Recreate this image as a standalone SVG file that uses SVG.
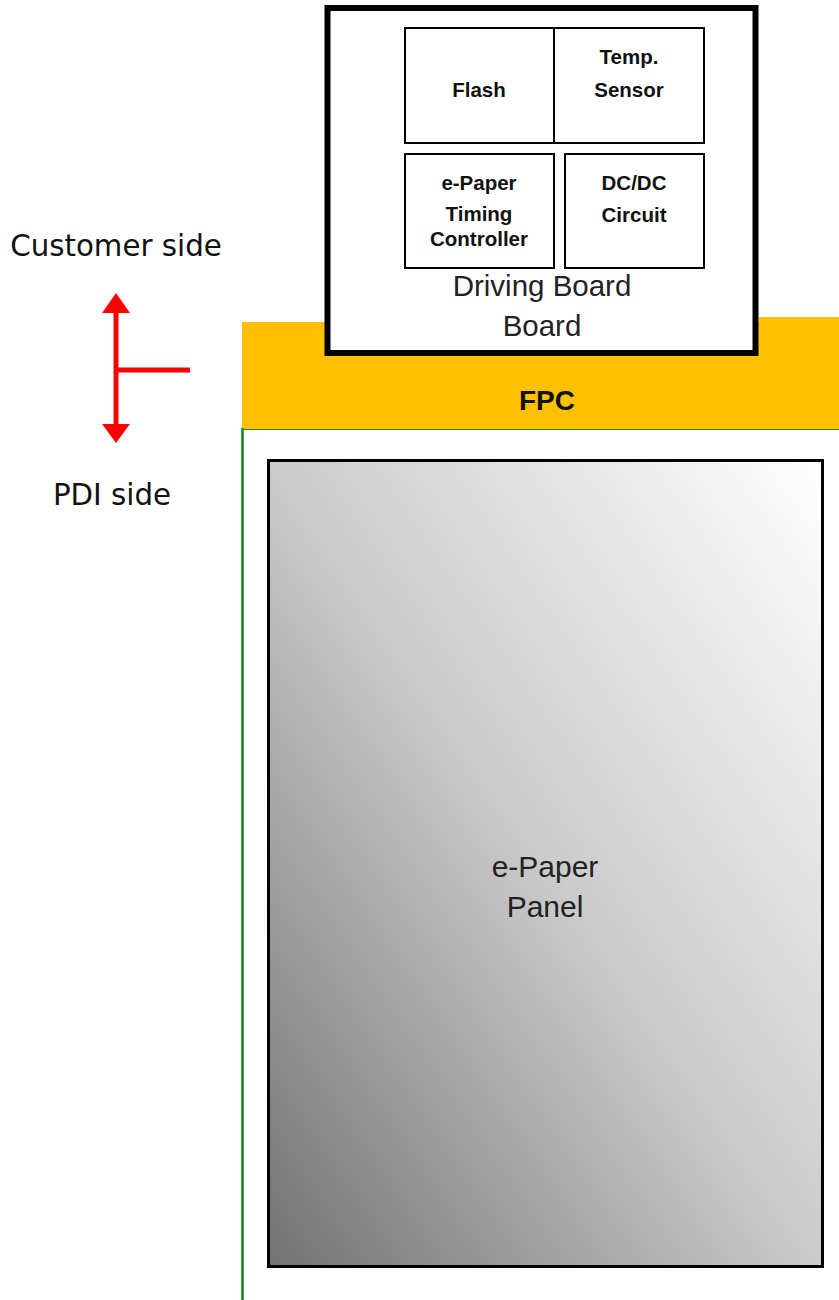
<svg xmlns="http://www.w3.org/2000/svg" width="839" height="1300" viewBox="0 0 839 1300">
<style>
.b{font-family:"Liberation Sans",Arial,sans-serif;font-weight:bold;font-size:20.5px;fill:#111;text-anchor:middle}
.r{font-family:"Liberation Sans",Arial,sans-serif;font-size:29.5px;fill:#222;text-anchor:middle}
.v{font-family:"DejaVu Sans",Verdana,sans-serif;font-size:29.3px;fill:#111;text-anchor:middle}
.box{fill:#fff;stroke:#000;stroke-width:2}
</style>
<defs>
<linearGradient id="pg" x1="0" y1="1" x2="1" y2="0">
<stop offset="0" stop-color="#727272"/>
<stop offset="0.5" stop-color="#cbcbcb"/>
<stop offset="1" stop-color="#ffffff"/>
</linearGradient>
</defs>
<rect width="839" height="1300" fill="#fff"/>
<g id="fpc">
<rect x="242" y="322" width="597" height="107" fill="#ffc000"/>
<rect x="759" y="317" width="80" height="6" fill="#ffc000"/>
<line x1="242" y1="429.5" x2="839" y2="429.5" stroke="#1a8a1a" stroke-width="1"/>
<text class="b" x="547" y="410" style="font-size:28px">FPC</text>
</g>
<g id="green-line">
<line x1="242.5" y1="428" x2="242.5" y2="1300" stroke="#0a8a0a" stroke-width="2.5"/>
</g>
<g id="driving-board">
<rect x="327.5" y="8" width="428" height="345" fill="#fff" stroke="#000" stroke-width="6"/>
<text class="r" x="542" y="296">Driving Board</text>
<text class="r" x="542" y="336">Board</text>
</g>
<g id="flash">
<rect class="box" x="405" y="28" width="149" height="115"/>
<text class="b" x="479" y="97">Flash</text>
</g>
<g id="temp-sensor">
<rect class="box" x="554" y="28" width="150" height="115"/>
<text class="b" x="629" y="64">Temp.</text>
<text class="b" x="629" y="97">Sensor</text>
</g>
<g id="timing-controller">
<rect class="box" x="405" y="154" width="149" height="114"/>
<text class="b" x="479" y="190">e-Paper</text>
<text class="b" x="479" y="221">Timing</text>
<text class="b" x="479" y="246">Controller</text>
</g>
<g id="dcdc">
<rect class="box" x="565" y="154" width="139" height="114"/>
<text class="b" x="634" y="190">DC/DC</text>
<text class="b" x="634" y="222">Circuit</text>
</g>
<g id="panel">
<rect x="268.5" y="460.5" width="554" height="806" fill="url(#pg)" stroke="#000" stroke-width="3"/>
<text class="r" x="545" y="877" style="font-size:30px">e-Paper</text>
<text class="r" x="545" y="917" style="font-size:30px">Panel</text>
</g>
<g id="labels">
<text class="v" x="116" y="256">Customer side</text>
<text class="v" x="112" y="505">PDI side</text>
</g>
<g id="connectors">
<line x1="116" y1="308" x2="116" y2="428" stroke="#f00" stroke-width="5"/>
<line x1="116" y1="370" x2="190" y2="370" stroke="#f00" stroke-width="5"/>
<polygon points="116,293 130,313 102,313" fill="#f00"/>
<polygon points="116,443 130,424 102,424" fill="#f00"/>
</g>
</svg>
